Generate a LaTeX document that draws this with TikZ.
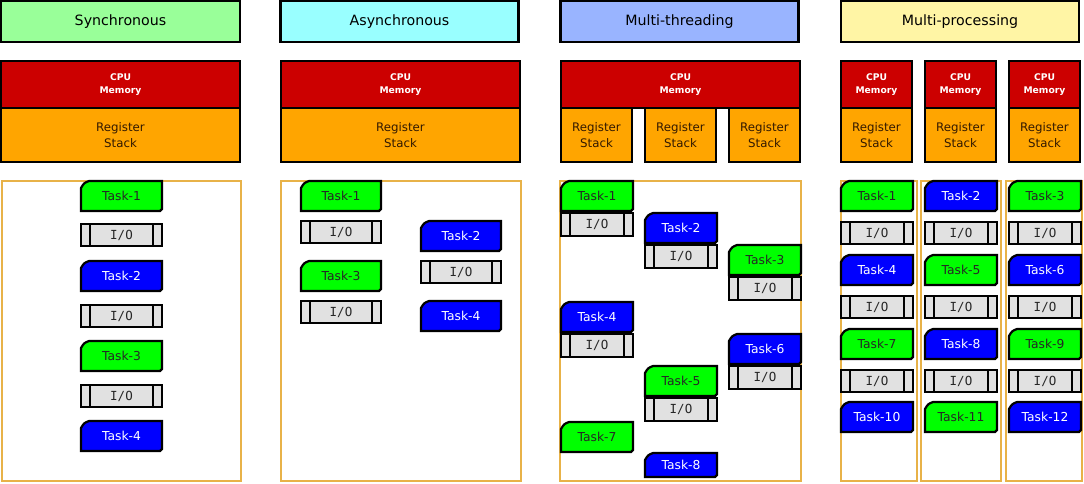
\documentclass[tikz,border=0pt]{standalone}
\usepackage{fontspec}
\setmainfont{DejaVu Sans}
\newfontfamily\iofont{DejaVu Sans Mono}
\definecolor{hsync}{RGB}{153,255,153}
\definecolor{hasync}{RGB}{153,255,255}
\definecolor{hthread}{RGB}{153,180,255}
\definecolor{hproc}{RGB}{255,245,165}
\definecolor{cpured}{RGB}{204,0,0}
\definecolor{regorange}{RGB}{255,165,0}
\definecolor{regtext}{RGB}{50,25,0}
\definecolor{tgreen}{RGB}{0,255,0}
\definecolor{tblue}{RGB}{0,0,255}
\definecolor{iogray}{RGB}{225,225,225}
\definecolor{arealine}{RGB}{232,178,72}

% task card: chamfered top-left corner
\newcommand{\taskcard}[7]{%
  \draw[cardline,#6] (#2,#3+7) .. controls (#2+3,#3+2) .. (#2+8,#3) -- (#2+#4,#3) -- (#2+#4,#3+#5-2)
    -- (#2+#4-2,#3+#5) -- (#2,#3+#5) -- cycle;
  \node[cardtext,#6,fill=none] (#1) at (#2+#4/2,#3+#5/2) {#7};
}
% I/O block with two side bars
\newcommand{\iobox}[5]{%
  \node[ioblock,minimum width=#4pt,minimum height=#5pt] (#1) at (#2+#4/2,#3+#5/2) {I/O};
  \draw[ioline] (#2+9,#3) -- (#2+9,#3+#5) (#2+#4-9,#3) -- (#2+#4-9,#3+#5);
}

\begin{document}
\begin{tikzpicture}[x=1pt,y=-1pt,
  header/.style={draw=black,line width=2.2pt,minimum height=41pt,inner sep=0pt,font=\fontsize{14.2}{16}\selectfont},
  cpubox/.style={draw=black,line width=2.2pt,fill=cpured,text=white,inner sep=0pt,align=center,
    font=\bfseries\fontsize{9.2}{13.5}\selectfont},
  regbox/.style={draw=black,line width=2.2pt,fill=regorange,text=regtext,inner sep=0pt,align=center,
    font=\fontsize{11.8}{16}\selectfont},
  area/.style={draw=arealine,line width=1.2pt},
  cardline/.style={draw=black,line width=2.2pt,line join=miter},
  gtask/.style={fill=tgreen,text=black!85},
  btask/.style={fill=tblue,text=white},
  cardtext/.style={inner sep=0pt,font=\fontsize{12.3}{13}\selectfont},
  ioblock/.style={draw=black,line width=2.2pt,fill=iogray,inner sep=0pt,text=black!85,
    font=\iofont\fontsize{12.5}{13}\selectfont},
  ioline/.style={draw=black,line width=2.2pt},
]
\useasboundingbox (0,0) rectangle (1084,483);

% ---------- headers ----------
\node[header,fill=hsync,minimum width=239pt]   (hs) at (120.5,21.5) {Synchronous};
\node[header,fill=hasync,minimum width=238pt]  (ha) at (399.5,21.5) {Asynchronous};
\node[header,fill=hthread,minimum width=238pt] (ht) at (679.5,21.5) {Multi-threading};
\node[header,fill=hproc,minimum width=238pt]   (hp) at (960,21.5) {Multi-processing};

% ---------- CPU / register blocks ----------
\node[cpubox,minimum width=239pt,minimum height=47pt] (c1) at (120.5,84.5) {CPU\\Memory};
\node[regbox,minimum width=239pt,minimum height=54pt] (r1) at (120.5,135) {Register\\Stack};

\node[cpubox,minimum width=239pt,minimum height=47pt] (c2) at (400.5,84.5) {CPU\\Memory};
\node[regbox,minimum width=239pt,minimum height=54pt] (r2) at (400.5,135) {Register\\Stack};

\node[cpubox,minimum width=239pt,minimum height=47pt] (c3) at (680.5,84.5) {CPU\\Memory};
\node[regbox,minimum width=71pt,minimum height=54pt] (r3a) at (596.5,135) {Register\\Stack};
\node[regbox,minimum width=71pt,minimum height=54pt] (r3b) at (680.5,135) {Register\\Stack};
\node[regbox,minimum width=71pt,minimum height=54pt] (r3c) at (764.5,135) {Register\\Stack};

\foreach \cx/\k in {876.5/a,960.5/b,1044.5/c}{
  \node[cpubox,minimum width=71pt,minimum height=47pt] (c4\k) at (\cx,84.5) {CPU\\Memory};
  \node[regbox,minimum width=71pt,minimum height=54pt] (r4\k) at (\cx,135) {Register\\Stack};
}

% ---------- task areas ----------
\draw[area] (2,181) rectangle (241,481);
\draw[area] (281,181) rectangle (521,481);
\draw[area] (560,181) rectangle (801,481);
\draw[area] (841,181) rectangle (917,481);
\draw[area] (921,181) rectangle (1001,481);
\draw[area] (1006,181) rectangle (1082,481);

% ---------- synchronous ----------
\taskcard{s1}{81}{181}{81}{30}{gtask}{Task-1}
\iobox{sio1}{81}{224}{81}{22}
\taskcard{s2}{81}{261}{81}{30}{btask}{Task-2}
\iobox{sio2}{81}{305}{81}{22}
\taskcard{s3}{81}{341}{81}{30}{gtask}{Task-3}
\iobox{sio3}{81}{385}{81}{22}
\taskcard{s4}{81}{421}{81}{30}{btask}{Task-4}

% ---------- asynchronous ----------
\taskcard{a1}{301}{181}{80}{30}{gtask}{Task-1}
\iobox{aio1}{301}{221}{80}{22}
\taskcard{a3}{301}{261}{80}{30}{gtask}{Task-3}
\iobox{aio3}{301}{301}{80}{22}
\taskcard{a2}{421}{221}{80}{30}{btask}{Task-2}
\iobox{aio2}{421}{261}{80}{22}
\taskcard{a4}{421}{301}{80}{30}{btask}{Task-4}

% ---------- multi-threading ----------
\taskcard{t1}{561}{181}{72}{30}{gtask}{Task-1}
\iobox{tio1}{561}{213}{72}{23}
\taskcard{t2}{645}{213}{72}{30}{btask}{Task-2}
\iobox{tio2}{645}{245}{72}{23}
\taskcard{t3}{729}{245}{72}{30}{gtask}{Task-3}
\iobox{tio3}{729}{277}{72}{23}
\taskcard{t4}{561}{302}{72}{30}{btask}{Task-4}
\iobox{tio4}{561}{334}{72}{23}
\taskcard{t6}{729}{334}{72}{30}{btask}{Task-6}
\iobox{tio6}{729}{366}{72}{23}
\taskcard{t5}{645}{366}{72}{30}{gtask}{Task-5}
\iobox{tio5}{645}{398}{72}{23}
\taskcard{t7}{561}{422}{72}{30}{gtask}{Task-7}
\taskcard{t8}{645}{453}{72}{24}{btask}{Task-8}

% ---------- multi-processing ----------
\taskcard{p1}{841}{181}{72}{30}{gtask}{Task-1}
\taskcard{p2}{925}{181}{72}{30}{btask}{Task-2}
\taskcard{p3}{1009}{181}{72}{30}{gtask}{Task-3}
\iobox{pio1}{841}{222}{72}{22}
\iobox{pio2}{925}{222}{72}{22}
\iobox{pio3}{1009}{222}{72}{22}
\taskcard{p4}{841}{255}{72}{30}{btask}{Task-4}
\taskcard{p5}{925}{255}{72}{30}{gtask}{Task-5}
\taskcard{p6}{1009}{255}{72}{30}{btask}{Task-6}
\iobox{pio4}{841}{296}{72}{22}
\iobox{pio5}{925}{296}{72}{22}
\iobox{pio6}{1009}{296}{72}{22}
\taskcard{p7}{841}{329}{72}{30}{gtask}{Task-7}
\taskcard{p8}{925}{329}{72}{30}{btask}{Task-8}
\taskcard{p9}{1009}{329}{72}{30}{gtask}{Task-9}
\iobox{pio7}{841}{370}{72}{22}
\iobox{pio8}{925}{370}{72}{22}
\iobox{pio9}{1009}{370}{72}{22}
\taskcard{p10}{841}{402}{72}{30}{btask}{Task-10}
\taskcard{p11}{925}{402}{72}{30}{gtask}{Task-11}
\taskcard{p12}{1009}{402}{72}{30}{btask}{Task-12}
\end{tikzpicture}
\end{document}
